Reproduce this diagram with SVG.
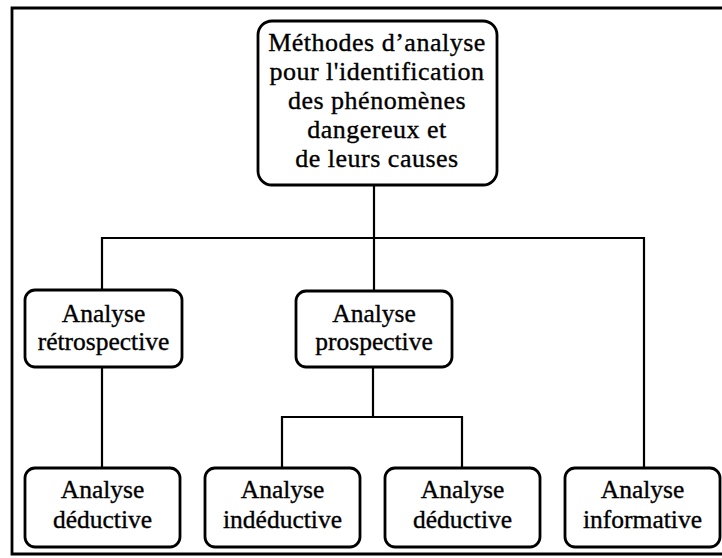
<svg xmlns="http://www.w3.org/2000/svg" width="722" height="558" viewBox="0 0 722 558">
  <style>
    .box { fill: #ffffff; stroke: #000000; stroke-width: 2.8; }
    .wire { fill: none; stroke: #000000; stroke-width: 2.2; }
    .frame { fill: none; stroke: #000000; stroke-width: 2.8; }
    text { font-family: "Liberation Serif", "Times New Roman", serif; font-size: 25.5px; fill: #000000; stroke: #000000; stroke-width: 0.35; text-anchor: middle; }
    .head text { font-size: 26px; letter-spacing: 0.5px; }
  </style>
  <rect width="722" height="558" fill="#ffffff"/>

  <!-- outer frame (open on the right) -->
  <path class="frame" d="M722 8 H12 V554 H722"/>

  <!-- connectors -->
  <g id="connectors">
    <path class="wire" d="M374 185 V238"/>
    <path class="wire" d="M102 290 V238 H644 V468"/>
    <path class="wire" d="M374 238 V291"/>
    <path class="wire" d="M102 367 V468"/>
    <path class="wire" d="M373 367 V417"/>
    <path class="wire" d="M282 468 V417 H462 V468"/>
  </g>

  <g id="methodes" class="head">
    <rect class="box" x="258" y="21" width="239" height="164" rx="14"/>
    <text x="377" y="51">Méthodes d’analyse</text>
    <text x="377" y="80">pour l'identification</text>
    <text x="377" y="109">des phénomènes</text>
    <text x="377" y="138">dangereux  et</text>
    <text x="377" y="167">de leurs causes</text>
  </g>

  <g id="retrospective">
    <rect class="box" x="25" y="290" width="157" height="77" rx="10"/>
    <text x="103.5" y="322">Analyse</text>
    <text x="103.5" y="350">rétrospective</text>
  </g>

  <g id="prospective">
    <rect class="box" x="296" y="291" width="156" height="76" rx="10"/>
    <text x="374" y="322">Analyse</text>
    <text x="374" y="350">prospective</text>
  </g>

  <g id="deductive-retro">
    <rect class="box" x="25" y="468" width="155" height="79" rx="10"/>
    <text x="102.5" y="498">Analyse</text>
    <text x="102.5" y="528">déductive</text>
  </g>

  <g id="inductive">
    <rect class="box" x="205" y="468" width="155" height="79" rx="10"/>
    <text x="282.5" y="498">Analyse</text>
    <text x="282.5" y="528">indéductive</text>
  </g>

  <g id="deductive-pro">
    <rect class="box" x="385" y="468" width="155" height="79" rx="10"/>
    <text x="462.5" y="498">Analyse</text>
    <text x="462.5" y="528">déductive</text>
  </g>

  <g id="informative">
    <rect class="box" x="565" y="468" width="155" height="79" rx="10"/>
    <text x="642.5" y="498">Analyse</text>
    <text x="642.5" y="528">informative</text>
  </g>
</svg>
